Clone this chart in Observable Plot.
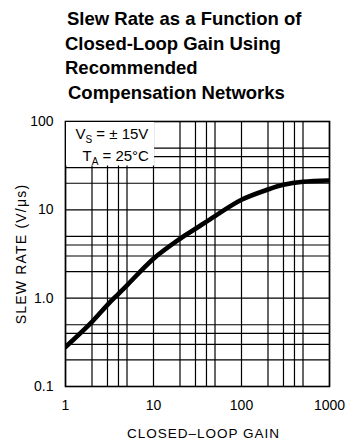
<!DOCTYPE html>
<html><head><meta charset="utf-8">
<script src="https://cdn.jsdelivr.net/npm/d3@7"></script>
<script src="https://cdn.jsdelivr.net/npm/@observablehq/plot@0.6"></script>
<style>
body{margin:0;background:#fff;font-family:"Liberation Sans",Arial,Helvetica,sans-serif;}
#title{height:110px;box-sizing:border-box;padding-top:7px;font-weight:bold;font-size:18.5px;line-height:24.5px;color:#000;}
#title div{white-space:nowrap;}
</style></head><body>
<div id="title"></div>
<div id="chart"></div>
<script>
const titleLines = ["Slew Rate as a Function of", "Closed-Loop Gain Using", "Recommended", "Compensation Networks"];
const titleIndent = [67, 65, 65, 68];

const gain = [1, 2, 3, 4, 5, 10, 20, 30, 50, 100, 200, 300, 500, 1000];
const slewRate = [0.28, 0.54, 0.84, 1.12, 1.4, 2.8, 4.7, 6.1, 8.5, 13, 17, 19.2, 20.8, 21.5];

const gainGrid = [1, 2, 3, 4, 5, 10, 20, 30, 40, 50, 100, 200, 300, 400, 500, 1000];
const rateGrid = [0.1, 0.2, 0.3, 0.4, 0.5, 1, 2, 3, 4, 5, 10, 20, 30, 40, 50, 100];
const gainLabels = [1, 10, 100, 1000];
const rateLabels = [0.1, 1, 10, 100];
const rateLabelText = ["0.1", "1.0", "10", "100"];

const legendMain = ["V", "T"];
const legendSub = ["S", "A"];
const legendRest = [" = \u00B1 15V", " = 25\u00B0C"];

const xTitle = "CLOSED\u2013LOOP GAIN";
const yTitle = "SLEW RATE (V/\u03BCs)";

d3.select("#title").selectAll("div").data(titleLines).join("div")
  .style("padding-left", (d, i) => titleIndent[i] + "px").text(d => d);

const curveData = gain.map((g, i) => ({gain: g, rate: slewRate[i]}));

const chart = Plot.plot({
  width: 347, height: 330,
  marginTop: 11, marginBottom: 54, marginLeft: 65, marginRight: 18,
  style: {fontFamily: "'Liberation Sans', Arial, sans-serif", fontSize: "14px", color: "#000", background: "#fff", overflow: "visible"},
  x: {type: "log", domain: [1, 1000]},
  y: {type: "log", domain: [0.1, 100]},
  marks: [
    Plot.ruleX(gainGrid, {stroke: "#000", strokeWidth: 1.2}),
    Plot.ruleY(rateGrid, {stroke: "#000", strokeWidth: 1.2}),
    Plot.frame({stroke: "#000", strokeWidth: 1.6}),
    Plot.axisX(gainLabels, {tickSize: 0, tickPadding: 14, tickFormat: d => String(d), label: null, fontSize: 14}),
    Plot.axisY(rateLabels, {tickSize: 0, tickPadding: 12, tickFormat: d => rateLabelText[rateLabels.indexOf(d)], label: null, fontSize: 14}),
    Plot.line(curveData, {x: "gain", y: "rate", curve: "catmull-rom", stroke: "#000", strokeWidth: 4.6, clip: true}),
    Plot.text([0], {frameAnchor: "top-left", dx: 10, dy: 17, text: () => legendMain[0], textAnchor: "start", lineAnchor: "bottom", fontSize: 15, ariaDescription: "legend0"}),
    Plot.text([1], {frameAnchor: "top-left", dx: 17, dy: 39, text: () => legendMain[1], textAnchor: "start", lineAnchor: "bottom", fontSize: 15, ariaDescription: "legend1"}),
    Plot.text([xTitle], {frameAnchor: "bottom", dx: 6, dy: 47, text: d => d, textAnchor: "middle", lineAnchor: "middle", fontSize: 13.5, ariaDescription: "xtitle"}),
    Plot.text([yTitle], {frameAnchor: "left", dx: -44, rotate: -90, text: d => d, textAnchor: "middle", lineAnchor: "middle", fontSize: 14, ariaDescription: "ytitle"})
  ]
});
document.getElementById("chart").appendChild(chart);

const svg = d3.select(chart);
svg.selectAll('g[aria-description="xtitle"] text').style("letter-spacing", "1px");
svg.selectAll('g[aria-description="ytitle"] text').style("letter-spacing", "1.2px");

[0, 1].forEach(i => {
  const t = svg.select(`g[aria-description="legend${i}"] text`);
  t.text("");
  t.append("tspan").text(legendMain[i]);
  t.append("tspan").attr("dy", 4).attr("font-size", 10).text(legendSub[i]);
  t.append("tspan").attr("dy", -4).text(legendRest[i]);
});

// white legend box behind the annotation, sized from the rendered text
const svgRect = chart.getBoundingClientRect();
const xRange = chart.scale("x").range, yRange = chart.scale("y").range;
const frameLeft = Math.min(...xRange), frameTop = Math.min(...yRange);
let maxX = -Infinity, maxY = -Infinity;
svg.selectAll('g[aria-description^="legend"] text').each(function () {
  const r = this.getBoundingClientRect();
  maxX = Math.max(maxX, r.right - svgRect.left);
  maxY = Math.max(maxY, r.bottom - svgRect.top);
});
const firstLegend = svg.select('g[aria-description="legend0"]').node();
if (firstLegend && isFinite(maxX)) {
  const box = document.createElementNS("http://www.w3.org/2000/svg", "rect");
  box.setAttribute("x", frameLeft + 1);
  box.setAttribute("y", frameTop + 1);
  box.setAttribute("width", Math.max(0, maxX + 5 - frameLeft - 1));
  box.setAttribute("height", Math.max(0, maxY - frameTop - 2));
  box.setAttribute("fill", "#fff");
  firstLegend.parentNode.insertBefore(box, firstLegend);
}
</script>
</body></html>
